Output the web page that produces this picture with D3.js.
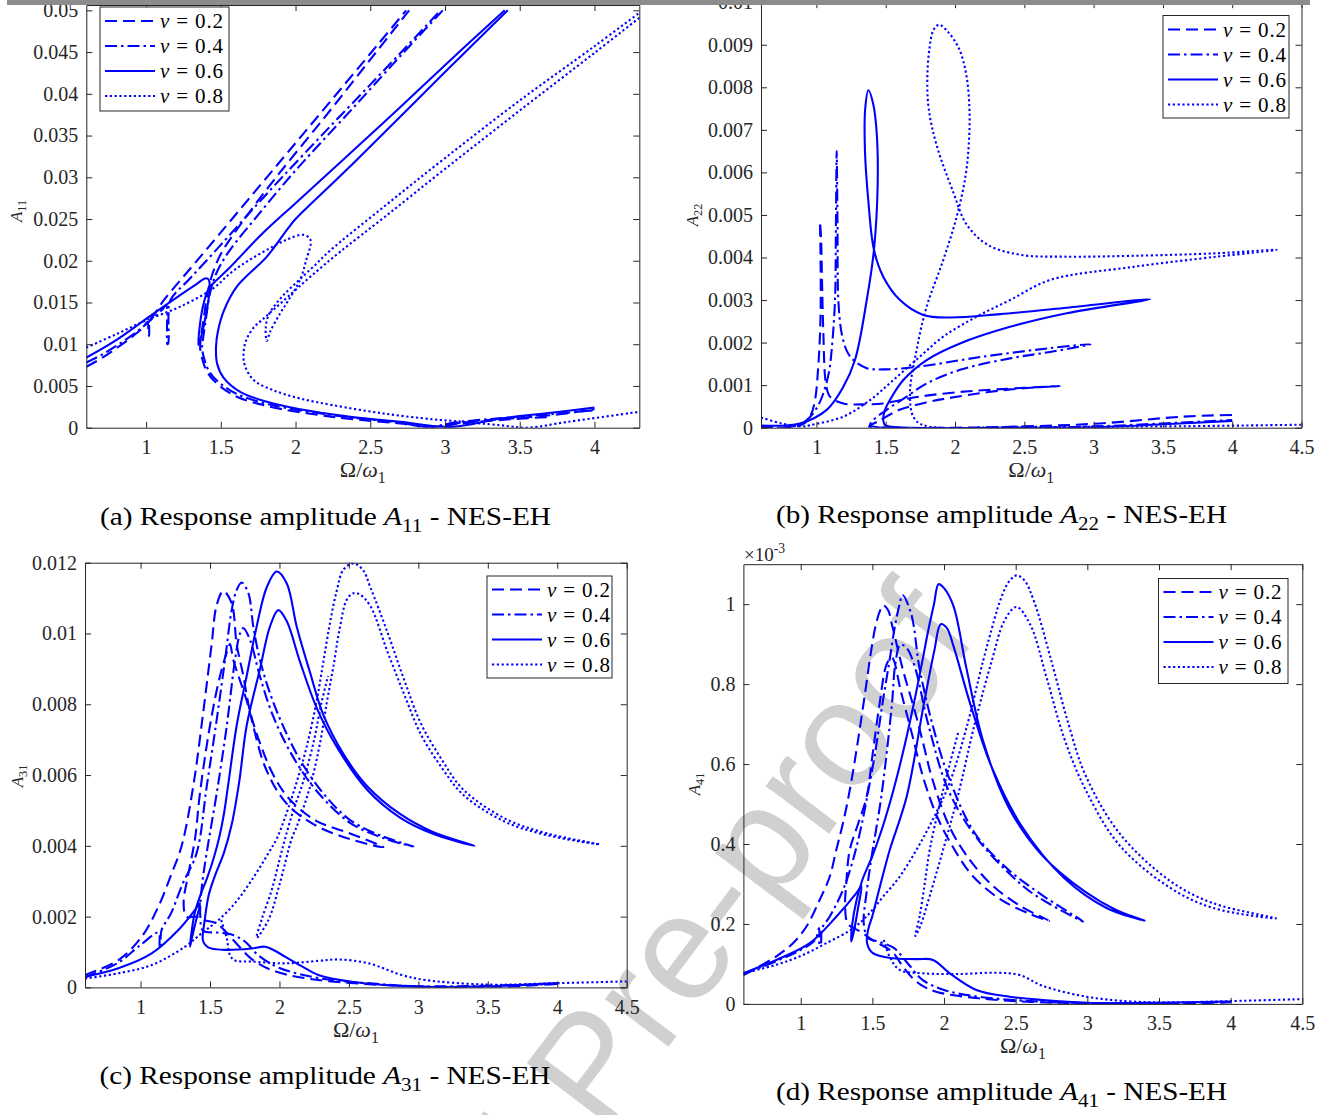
<!DOCTYPE html>
<html><head><meta charset="utf-8">
<script src="https://cdn.jsdelivr.net/npm/d3@7"></script>
<style>body{margin:0;background:#fff}svg{display:block}text{white-space:pre}</style>
</head><body>
<svg id="c" width="1327" height="1115"></svg>
<script>
// ---------------- DATA ----------------
const xTicksA = [1,1.5,2,2.5,3,3.5,4];
const xLabelsA = ["1","1.5","2","2.5","3","3.5","4"];
const xTicksBCD = [1,1.5,2,2.5,3,3.5,4,4.5];
const xLabelsBCD = ["1","1.5","2","2.5","3","3.5","4","4.5"];
const yTicksA11 = [0,0.005,0.01,0.015,0.02,0.025,0.03,0.035,0.04,0.045,0.05];
const yLabelsA11 = ["0","0.005","0.01","0.015","0.02","0.025","0.03","0.035","0.04","0.045","0.05"];
const yTicksA22 = [0,0.001,0.002,0.003,0.004,0.005,0.006,0.007,0.008,0.009,0.01];
const yLabelsA22 = ["0","0.001","0.002","0.003","0.004","0.005","0.006","0.007","0.008","0.009","0.01"];
const yTicksA31 = [0,0.002,0.004,0.006,0.008,0.01,0.012];
const yLabelsA31 = ["0","0.002","0.004","0.006","0.008","0.01","0.012"];
const yTicksA41 = [0,0.2,0.4,0.6,0.8,1];
const yLabelsA41 = ["0","0.2","0.4","0.6","0.8","1"];
const vValues = ["0.2","0.4","0.6","0.8"];

// (a) A11
const A11_v02 = [
 [[0.6,0.0073],[0.7,0.0083],[0.8,0.0095],[0.9,0.0108],[0.98,0.0120],[1.01,0.0127],[1.015,0.0112],[1.02,0.0110],[1.025,0.0128],[1.06,0.0137],[1.12,0.0153],[1.25,0.0181],[1.43,0.0219],[1.71,0.0279],[2.0,0.0341],[2.28,0.0401],[2.56,0.0461],[2.74,0.0500]],
 [[2.76,0.0500],[2.5,0.0441],[2.2,0.0373],[1.87,0.0300],[1.65,0.0248],[1.5,0.0208],[1.44,0.0182],[1.41,0.0160],[1.385,0.0130],[1.365,0.0105],[1.362,0.0095],[1.375,0.0083],[1.40,0.0070],[1.45,0.0057],[1.585,0.0039],[1.81,0.0026],[2.25,0.0013],[2.7,0.0005],[2.92,0.0001],[3.15,0.0007],[3.71,0.0015],[4.0,0.0022]],
 [[3.0,0.0003],[3.35,0.0009],[3.72,0.0013]]
];
const A11_v04 = [
 [[0.6,0.0078],[0.7,0.0087],[0.8,0.0098],[0.9,0.0110],[1.0,0.0124],[1.1,0.0140],[1.135,0.0146],[1.14,0.0120],[1.142,0.0100],[1.148,0.0101],[1.15,0.0135],[1.16,0.0152],[1.3,0.0180],[1.5,0.0219],[1.7,0.0259],[1.91,0.0300],[2.2,0.0355],[2.5,0.0411],[2.75,0.0458],[2.97,0.0500]],
 [[2.985,0.0500],[2.7,0.0445],[2.4,0.0386],[2.1,0.0328],[1.96,0.0300],[1.75,0.0255],[1.55,0.0210],[1.47,0.0185],[1.43,0.0163],[1.40,0.0130],[1.38,0.0105],[1.375,0.0095],[1.39,0.0082],[1.42,0.0068],[1.47,0.0057],[1.6,0.0041],[1.82,0.0028],[2.25,0.0015],[2.7,0.0006],[2.88,0.0001],[3.1,0.0007],[3.7,0.0016],[4.0,0.0021]]
];
const A11_v06 = [
 [[0.6,0.0084],[0.8,0.0105],[1.005,0.0131],[1.23,0.0159],[1.33,0.0171],[1.40,0.0179],[1.42,0.0177],[1.425,0.0165],[1.40,0.0135],[1.37,0.0110],[1.35,0.0099],[1.355,0.0115],[1.38,0.0145],[1.42,0.0167],[1.45,0.0173],[1.55,0.0190],[1.775,0.0232],[2.0,0.0269],[2.3,0.0318],[2.7,0.0384],[3.1,0.0451],[3.40,0.0500]],
 [[3.42,0.0500],[3.0,0.0426],[2.5,0.0337],[2.29,0.0300],[2.0,0.0250],[1.942,0.0237],[1.808,0.0205],[1.607,0.0169],[1.52,0.0140],[1.48,0.0115],[1.468,0.0097],[1.475,0.0077],[1.518,0.0060],[1.629,0.0043],[1.808,0.0031],[2.03,0.0022],[2.366,0.0013],[2.70,0.0007],[3.04,0.0001],[3.37,0.0011],[3.71,0.0018],[4.0,0.0024]]
];
const A11_v08 = [
 [[0.6,0.0096],[0.8,0.0112],[1.005,0.0129],[1.228,0.0145],[1.45,0.0167],[1.563,0.0185],[1.674,0.0199],[1.808,0.0213],[1.95,0.0226],[2.053,0.0231],[2.10,0.0225],[2.07,0.0200],[2.03,0.0177],[1.95,0.0152],[1.897,0.0137],[1.83,0.0115],[1.808,0.0104],[1.80,0.0118],[1.82,0.0135],[1.90,0.0155],[2.0,0.0173],[2.12,0.0193],[2.23,0.0212],[2.6,0.0266],[3.0,0.0323],[3.5,0.0392],[4.0,0.0457],[4.3,0.0497]],
 [[4.3,0.0491],[4.0,0.0449],[3.5,0.0380],[3.0,0.0310],[2.6,0.0253],[2.3,0.0211],[2.1,0.0181],[1.95,0.0157],[1.85,0.0141],[1.775,0.0129],[1.72,0.0120],[1.67,0.0105],[1.652,0.0089],[1.66,0.0075],[1.72,0.0057],[1.85,0.0045],[2.03,0.0035],[2.25,0.0027],[2.59,0.0017],[2.92,0.0010],[3.06,0.0008],[3.37,0.0003],[3.55,0.0000],[3.82,0.0007],[4.3,0.0019]]
];

// (b) A22
const A22_v02 = [
 [[0.6,0.00002],[0.75,0.0],[0.85,0.00003],[0.92,0.00012],[0.96,0.0003],[0.99,0.00065],[1.013,0.00143],[1.026,0.00222],[1.031,0.0030],[1.029,0.0042],[1.026,0.00484],[1.034,0.0044],[1.04,0.0035],[1.05,0.00222],[1.068,0.00105],[1.098,0.00073],[1.194,0.00057],[1.363,0.00055],[1.482,0.00057],[1.723,0.00072],[2.0,0.00083],[2.3,0.0009],[2.757,0.00098],[2.4,0.0009],[2.0,0.00072],[1.8,0.0006],[1.6,0.00042],[1.45,0.00016],[1.38,0.00003],[1.5,0.0],[2.0,0.0],[2.5,0.00003],[3.046,0.0001],[3.647,0.00026],[4.0,0.0003]]
];
const A22_v04 = [
 [[0.6,0.00003],[0.75,0.0],[0.85,0.00005],[0.93,0.00018],[1.0,0.00045],[1.05,0.00081],[1.09,0.0013],[1.11,0.00183],[1.134,0.0030],[1.14,0.0045],[1.146,0.0065],[1.152,0.0048],[1.158,0.0030],[1.182,0.00222],[1.22,0.0018],[1.266,0.00159],[1.363,0.0014],[1.482,0.00137],[1.723,0.00143],[2.204,0.00167],[2.685,0.00187],[2.977,0.00196],[2.685,0.00178],[2.397,0.00163],[2.036,0.00136],[1.795,0.00104],[1.651,0.00073],[1.507,0.00042],[1.41,0.00018],[1.387,0.00006],[1.5,0.0],[2.5,0.0],[3.0,0.00003],[3.5,0.0001],[4.0,0.00018]]
];
const A22_v06 = [
 [[0.6,0.00005],[0.881,0.0001],[1.074,0.00042],[1.194,0.00096],[1.278,0.00159],[1.363,0.0030],[1.415,0.00418],[1.442,0.00574],[1.435,0.00692],[1.41,0.0076],[1.375,0.00793],[1.352,0.0075],[1.35,0.00652],[1.374,0.00535],[1.415,0.00418],[1.482,0.00355],[1.603,0.0030],[1.771,0.00265],[1.964,0.00259],[2.325,0.00267],[2.806,0.00282],[3.407,0.00302],[2.806,0.00269],[2.397,0.00237],[2.036,0.00198],[1.795,0.00159],[1.627,0.00112],[1.53,0.00065],[1.495,0.00042],[1.482,0.00022],[1.495,0.00006],[1.6,0.00001],[2.5,0.0],[3.0,0.00001],[3.5,0.00008],[4.0,0.00016]]
];
const A22_v08 = [
 [[0.6,0.00024],[0.75,0.0001],[0.9,0.00003],[0.954,0.00006],[1.194,0.00026],[1.387,0.00065],[1.555,0.00112],[1.747,0.00167],[1.915,0.00214],[2.156,0.00261],[2.397,0.0030],[2.685,0.00347],[3.286,0.00378],[3.888,0.00402],[4.32,0.00418],[3.888,0.0041],[3.286,0.00404],[2.787,0.00402],[2.48,0.00406],[2.234,0.0043],[2.081,0.00479],[1.989,0.00552],[1.866,0.00665],[1.81,0.0075],[1.80,0.0082],[1.815,0.0089],[1.845,0.00935],[1.885,0.00947],[1.95,0.0093],[2.03,0.0089],[2.081,0.0083],[2.104,0.0075],[2.1,0.0067],[2.075,0.0059],[2.012,0.00496],[1.915,0.00394],[1.795,0.00284],[1.723,0.00183],[1.675,0.00081],[1.699,0.00026],[1.771,0.00006],[2.5,0.00002],[3.5,0.00003],[4.5,0.00007]]
];

// (c) A31
const A31_v02 = [
 [[0.6,0.00035],[0.84,0.00077],[1.008,0.00143],[1.128,0.00228],[1.224,0.00322],[1.296,0.0040],[1.38,0.0057],[1.452,0.0078],[1.512,0.0097],[1.548,0.0108],[1.596,0.0112],[1.656,0.01085],[1.692,0.0097],[1.74,0.0088],[1.788,0.0078],[1.86,0.0069],[1.956,0.0060],[2.076,0.0053],[2.268,0.0047],[2.508,0.00435],[2.748,0.00396],[2.5,0.0042],[2.25,0.0046],[2.05,0.0052],[1.9,0.0062],[1.764,0.0081],[1.668,0.00925],[1.644,0.0097],[1.632,0.0096],[1.572,0.0088],[1.5,0.0074],[1.428,0.0055],[1.392,0.0042],[1.344,0.0032],[1.31,0.0024],[1.33,0.0020],[1.40,0.0020],[1.46,0.0019],[1.55,0.0018],[1.63,0.0015],[1.70,0.0012],[1.80,0.0008],[1.95,0.00048],[2.2,0.00025],[2.6,0.0001],[3.0,0.00003],[3.5,0.0],[4.0,0.0001]]
];
const A31_v04 = [
 [[0.6,0.00028],[0.84,0.0007],[1.0,0.0012],[1.13,0.00155],[1.137,0.0012],[1.145,0.0011],[1.15,0.0016],[1.22,0.0021],[1.30,0.0029],[1.404,0.0038],[1.476,0.00567],[1.548,0.00756],[1.608,0.00925],[1.656,0.01066],[1.692,0.01123],[1.728,0.01144],[1.776,0.01114],[1.812,0.01019],[1.86,0.00925],[1.932,0.00831],[2.028,0.00737],[2.148,0.00643],[2.316,0.00548],[2.508,0.00473],[2.748,0.00426],[2.964,0.00398],[2.748,0.00422],[2.508,0.00465],[2.268,0.00555],[2.1,0.0065],[1.956,0.00765],[1.86,0.00878],[1.788,0.00982],[1.74,0.01015],[1.716,0.0100],[1.68,0.00925],[1.62,0.00737],[1.548,0.00548],[1.476,0.0038],[1.44,0.0028],[1.43,0.0020],[1.45,0.0016],[1.55,0.00155],[1.65,0.0015],[1.75,0.0013],[1.85,0.0009],[2.0,0.00055],[2.3,0.00025],[2.7,0.0001],[3.0,0.00003],[4.0,0.0001]]
];
const A31_v06 = [
 [[0.6,0.0003],[0.84,0.00054],[1.08,0.00096],[1.272,0.00162],[1.392,0.00219],[1.428,0.00238],[1.40,0.0019],[1.37,0.0014],[1.356,0.00115],[1.365,0.0015],[1.39,0.0021],[1.43,0.0026],[1.48,0.0031],[1.53,0.0037],[1.57,0.0043],[1.60,0.0049],[1.63,0.0057],[1.692,0.0074],[1.764,0.0088],[1.836,0.0102],[1.908,0.0113],[1.98,0.01175],[2.052,0.01142],[2.124,0.0102],[2.22,0.0089],[2.316,0.0077],[2.46,0.0066],[2.628,0.0057],[2.868,0.0049],[3.1,0.0044],[3.403,0.0040],[3.1,0.00435],[2.868,0.0048],[2.628,0.0056],[2.412,0.0068],[2.268,0.0079],[2.148,0.0092],[2.052,0.01035],[1.992,0.01066],[1.932,0.0102],[1.86,0.0090],[1.764,0.0074],[1.71,0.0058],[1.656,0.0046],[1.60,0.0038],[1.54,0.0032],[1.49,0.0026],[1.462,0.0019],[1.448,0.00135],[1.464,0.00121],[1.5,0.00111],[1.608,0.00106],[1.80,0.0011],[1.896,0.00115],[1.96,0.00105],[2.04,0.00087],[2.16,0.0006],[2.28,0.00035],[2.52,0.00016],[3.0,0.00002],[3.5,0.00003],[4.0,0.00012]]
];
const A31_v08 = [
 [[0.6,0.00025],[0.84,0.0004],[1.08,0.00063],[1.32,0.00115],[1.44,0.00153],[1.56,0.0019],[1.68,0.00238],[1.8,0.00303],[1.92,0.00379],[1.98,0.0042],[2.04,0.0048],[2.124,0.0058],[2.196,0.0068],[2.268,0.0081],[2.316,0.0092],[2.364,0.0103],[2.412,0.0112],[2.46,0.0118],[2.532,0.01198],[2.6,0.0118],[2.655,0.0113],[2.776,0.01005],[2.897,0.0087],[3.018,0.00746],[3.17,0.00643],[3.321,0.0056],[3.624,0.00477],[3.927,0.00435],[4.306,0.00404],[3.927,0.0043],[3.624,0.00468],[3.321,0.00545],[3.17,0.0062],[3.018,0.00715],[2.897,0.00829],[2.776,0.0095],[2.655,0.01077],[2.58,0.0111],[2.532,0.01114],[2.484,0.01095],[2.436,0.01019],[2.388,0.00906],[2.34,0.00803],[2.292,0.0069],[2.22,0.00567],[2.124,0.00454],[2.088,0.0042],[2.0,0.0029],[1.92,0.0019],[1.836,0.0014],[1.87,0.0019],[1.944,0.00275],[2.0,0.0036],[2.04,0.0042],[2.1,0.0050],[2.17,0.0058],[2.25,0.0070],[2.3,0.0080],[2.35,0.0088]],
 [[1.58,0.0019],[1.62,0.0014],[1.645,0.0009],[1.68,0.00076],[1.8,0.00073],[2.04,0.00068],[2.28,0.00075],[2.424,0.00079],[2.64,0.00068],[2.88,0.00035],[3.048,0.00021],[3.5,0.00008],[4.0,0.00012],[4.5,0.00017]]
];

// (d) A41 (x 1e-3)
const A41_v02 = [
 [[0.6,0.072],[0.83,0.119],[0.946,0.152],[1.039,0.193],[1.132,0.26],[1.202,0.318],[1.248,0.385],[1.30,0.46],[1.35,0.55],[1.40,0.66],[1.45,0.78],[1.49,0.88],[1.525,0.95],[1.555,0.985],[1.576,0.997],[1.61,0.985],[1.636,0.95],[1.71,0.84],[1.799,0.729],[1.858,0.647],[1.917,0.564],[2.036,0.445],[2.156,0.372],[2.333,0.298],[2.541,0.243],[2.734,0.208],[2.6,0.225],[2.4,0.26],[2.2,0.32],[2.05,0.40],[1.95,0.47],[1.86,0.56],[1.78,0.67],[1.70,0.78],[1.636,0.867],[1.60,0.85],[1.55,0.75],[1.50,0.62],[1.46,0.518],[1.40,0.45],[1.342,0.385],[1.318,0.302],[1.31,0.24],[1.33,0.20],[1.42,0.18],[1.5,0.16],[1.55,0.15],[1.64,0.13],[1.70,0.10],[1.78,0.065],[1.85,0.045],[1.95,0.03],[2.24,0.014],[2.6,0.005],[3.0,0.002],[3.5,0.0],[4.0,0.004]]
];
const A41_v04 = [
 [[0.6,0.075],[0.83,0.107],[1.0,0.135],[1.1,0.16],[1.128,0.19],[1.132,0.147],[1.14,0.15],[1.15,0.19],[1.202,0.218],[1.295,0.285],[1.365,0.36],[1.42,0.44],[1.47,0.53],[1.52,0.63],[1.57,0.75],[1.62,0.86],[1.66,0.95],[1.69,1.0],[1.71,1.023],[1.77,0.977],[1.829,0.84],[1.917,0.702],[2.036,0.564],[2.215,0.427],[2.452,0.335],[2.689,0.271],[2.971,0.206],[2.689,0.26],[2.541,0.298],[2.244,0.408],[2.036,0.53],[1.888,0.702],[1.799,0.84],[1.74,0.89],[1.695,0.899],[1.66,0.85],[1.636,0.748],[1.562,0.518],[1.50,0.38],[1.46,0.28],[1.44,0.2],[1.47,0.165],[1.55,0.155],[1.65,0.14],[1.75,0.10],[1.85,0.06],[2.0,0.035],[2.2,0.02],[2.6,0.007],[3.0,0.002],[3.5,0.002],[4.0,0.005]]
];
const A41_v06 = [
 [[0.6,0.0766],[0.83,0.11],[1.063,0.152],[1.248,0.218],[1.388,0.277],[1.423,0.295],[1.40,0.24],[1.37,0.18],[1.353,0.156],[1.36,0.2],[1.39,0.26],[1.43,0.31],[1.50,0.37],[1.56,0.43],[1.62,0.50],[1.68,0.58],[1.74,0.67],[1.80,0.77],[1.85,0.86],[1.888,0.931],[1.93,1.0],[1.962,1.05],[2.0,1.04],[2.066,0.995],[2.156,0.84],[2.274,0.656],[2.452,0.491],[2.689,0.37],[2.986,0.28],[3.2,0.235],[3.40,0.208],[3.134,0.24],[2.838,0.315],[2.541,0.445],[2.333,0.592],[2.185,0.748],[2.066,0.895],[2.02,0.94],[1.977,0.95],[1.933,0.885],[1.858,0.748],[1.739,0.518],[1.621,0.385],[1.55,0.29],[1.50,0.22],[1.47,0.185],[1.463,0.152],[1.504,0.127],[1.644,0.114],[1.807,0.112],[1.923,0.11],[2.04,0.0766],[2.225,0.0348],[2.458,0.018],[2.69,0.0098],[3.0,0.003],[3.5,0.003],[4.0,0.006]]
];
const A41_v08 = [
 [[0.6,0.077],[0.83,0.098],[1.0,0.12],[1.179,0.152],[1.365,0.189],[1.481,0.227],[1.574,0.268],[1.69,0.318],[1.807,0.385],[1.92,0.46],[2.036,0.55],[2.156,0.69],[2.274,0.86],[2.35,0.96],[2.393,1.01],[2.45,1.055],[2.505,1.072],[2.56,1.06],[2.63,1.005],[2.749,0.858],[2.867,0.702],[2.986,0.573],[3.224,0.427],[3.58,0.307],[3.877,0.252],[4.316,0.214],[3.877,0.24],[3.58,0.29],[3.224,0.397],[2.986,0.537],[2.838,0.665],[2.719,0.812],[2.6,0.95],[2.505,0.993],[2.422,0.959],[2.333,0.858],[2.215,0.702],[2.095,0.518],[1.993,0.385],[1.9,0.27],[1.84,0.2],[1.80,0.17],[1.83,0.22],[1.865,0.30],[1.9,0.385],[1.97,0.5],[2.04,0.6],[2.1,0.68]],
 [[1.58,0.16],[1.621,0.118],[1.69,0.085],[1.853,0.0766],[2.109,0.0748],[2.365,0.078],[2.528,0.0723],[2.69,0.045],[2.986,0.0185],[3.283,0.0065],[3.6,0.004],[4.0,0.007],[4.5,0.012]]
];

// ---------------- LAYOUT / STYLE ----------------
const FONT = "'Liberation Serif','Times New Roman',serif";
const BLUE = "#0000ff";
const AX = "#262626";
const dashes = [ "12,6", "12,4,2.5,4", null, "2.2,2.6" ];

const panels = [
 {id:"a", L:86.3, R:639.3, T:5, B:427.7, xDom:[0.6,4.3], yDom:[0,0.05064], xT:xTicksA, xL:xLabelsA, yT:yTicksA11, yL:yLabelsA11,
  series:[A11_v02,A11_v04,A11_v06,A11_v08], sub:"11", tag:"(a)", leg:{x:100,y:7,w:129,h:104,o:14}, ylab:[16,211], xlabY:477, cap:[325.5,525]},
 {id:"b", L:761, R:1301.5, T:2.2, B:427.7, xDom:[0.6,4.5], yDom:[0,0.01], xT:xTicksBCD, xL:xLabelsBCD, yT:yTicksA22, yL:yLabelsA22,
  series:[A22_v02,A22_v04,A22_v06,A22_v08], sub:"22", tag:"(b)", leg:{x:1163,y:15.5,w:126,h:102.5,o:14}, ylab:[692,215], xlabY:477, cap:[1001.5,523]},
 {id:"c", L:85, R:626.7, T:562.7, B:987.4, xDom:[0.6,4.5], yDom:[0,0.012], xT:xTicksBCD, xL:xLabelsBCD, yT:yTicksA31, yL:yLabelsA31,
  series:[A31_v02,A31_v04,A31_v06,A31_v08], sub:"31", tag:"(c)", leg:{x:487,y:576,w:125,h:102,o:13.5}, ylab:[17,776], xlabY:1037, cap:[325,1084]},
 {id:"d", L:743.4, R:1302.3, T:564.2, B:1003.9, xDom:[0.6,4.5], yDom:[0,1.1], xT:xTicksBCD, xL:xLabelsBCD, yT:yTicksA41, yL:yLabelsA41,
  series:[A41_v02,A41_v04,A41_v06,A41_v08], sub:"41", tag:"(d)", leg:{x:1158.5,y:578.5,w:129.5,h:105,o:13.5}, ylab:[694,784], xlabY:1053, cap:[1001.5,1100]}
];

const svg = d3.select("#c");
const defs = svg.append("defs");

function rich(t, parts, size){
  let shift = 0;
  parts.forEach(p=>{
    const ts = t.append("tspan").text(p.t);
    let target = 0, fs = size;
    if (p.sub){ target = size*0.28; fs = size*0.72; }
    if (p.sup){ target = -size*0.42; fs = size*0.72; }
    ts.attr("font-size", fs);
    if (p.it) ts.attr("font-style","italic");
    if (target !== shift){ ts.attr("dy", target-shift); shift = target; }
  });
}

// watermark
const wm = svg.append("g").attr("transform","translate(602,1135) rotate(-53)")
  .attr("font-family","'Liberation Sans',Arial,sans-serif").attr("font-size",150).attr("fill","#d0d0d0");
wm.append("text").attr("x",-42).attr("text-anchor","end").text("Journal");
wm.append("text").attr("x",0).text("Pre-proof");

panels.forEach(p=>{
  const x = d3.scaleLinear().domain(p.xDom).range([p.L,p.R]);
  const y = d3.scaleLinear().domain(p.yDom).range([p.B,p.T]);
  defs.append("clipPath").attr("id","clip"+p.id).append("rect")
    .attr("x",p.L).attr("y",p.T).attr("width",p.R-p.L).attr("height",p.B-p.T);
  const line = d3.line().x(d=>x(d[0])).y(d=>y(d[1])).curve(d3.curveCatmullRom.alpha(0.5));
  const gc = svg.append("g").attr("clip-path",`url(#clip${p.id})`);
  p.series.forEach((segs,i)=>{
    segs.forEach(seg=>{
      gc.append("path").attr("d",line(seg)).attr("fill","none").attr("stroke",BLUE)
        .attr("stroke-width",2.1).attr("stroke-dasharray",dashes[i]);
    });
  });
  const styleAx = g=>{ g.selectAll("path,line").attr("stroke",AX).attr("stroke-width",1);
    g.selectAll("text").attr("font-family",FONT).attr("font-size",20).attr("fill",AX); };
  svg.append("g").attr("transform",`translate(0,${p.B})`)
    .call(d3.axisBottom(x).tickValues(p.xT).tickFormat((d,i)=>p.xL[i]).tickSizeInner(-6).tickSizeOuter(0).tickPadding(12)).call(styleAx);
  svg.append("g").attr("transform",`translate(0,${p.T})`)
    .call(d3.axisTop(x).tickValues(p.xT).tickFormat("").tickSizeInner(-6).tickSizeOuter(0)).call(styleAx);
  svg.append("g").attr("transform",`translate(${p.L},0)`)
    .call(d3.axisLeft(y).tickValues(p.yT).tickFormat((d,i)=>p.yL[i]).tickSizeInner(-6).tickSizeOuter(0).tickPadding(8)).call(styleAx);
  svg.append("g").attr("transform",`translate(${p.R},0)`)
    .call(d3.axisRight(y).tickValues(p.yT).tickFormat("").tickSizeInner(-6).tickSizeOuter(0)).call(styleAx);

  // legend
  const lg = svg.append("g");
  lg.append("rect").attr("x",p.leg.x).attr("y",p.leg.y).attr("width",p.leg.w).attr("height",p.leg.h)
    .attr("fill","#fff").attr("stroke",AX).attr("stroke-width",1);
  vValues.forEach((v,i)=>{
    const cy = p.leg.y + p.leg.o + i*25;
    lg.append("line").attr("x1",p.leg.x+5).attr("x2",p.leg.x+55).attr("y1",cy).attr("y2",cy)
      .attr("stroke",BLUE).attr("stroke-width",2.1).attr("stroke-dasharray",dashes[i]);
    const t = lg.append("text").attr("x",p.leg.x+60).attr("y",cy+7).attr("font-family",FONT).attr("fill","#000")
      .attr("textLength",63).attr("lengthAdjust","spacing");
    rich(t,[{t:"v",it:1},{t:" = "+v}],21);
  });

  // axis labels
  const xl = svg.append("text").attr("x",(p.L+p.R)/2).attr("y",p.xlabY).attr("text-anchor","middle")
    .attr("font-family",FONT).attr("fill",AX);
  rich(xl,[{t:"Ω/"},{t:"ω",it:1},{t:"1",sub:1}],22);
  const yl = svg.append("text").attr("transform",`translate(${p.ylab[0]},${p.ylab[1]}) rotate(-90)`)
    .attr("text-anchor","middle").attr("dy",5.5).attr("font-family",FONT).attr("fill",AX);
  rich(yl,[{t:"A",it:1},{t:p.sub,sub:1}],17);
  // caption
  const cp = svg.append("text").attr("x",p.cap[0]).attr("y",p.cap[1]).attr("text-anchor","middle")
    .attr("font-family",FONT).attr("fill","#000").attr("textLength",451).attr("lengthAdjust","spacingAndGlyphs");
  rich(cp,[{t:p.tag+" Response amplitude "},{t:"A",it:1},{t:p.sub,sub:1},{t:" - NES-EH"}],26);
});

// exponent label for (d)
const ex = svg.append("text").attr("x",744).attr("y",561).attr("font-family",FONT).attr("fill",AX);
rich(ex,[{t:"×10"},{t:"-3",sup:1}],19);

// top gray band
svg.append("rect").attr("x",7).attr("y",0).attr("width",1303).attr("height",5).attr("fill","#8c8c8c");
</script>
</body></html>
